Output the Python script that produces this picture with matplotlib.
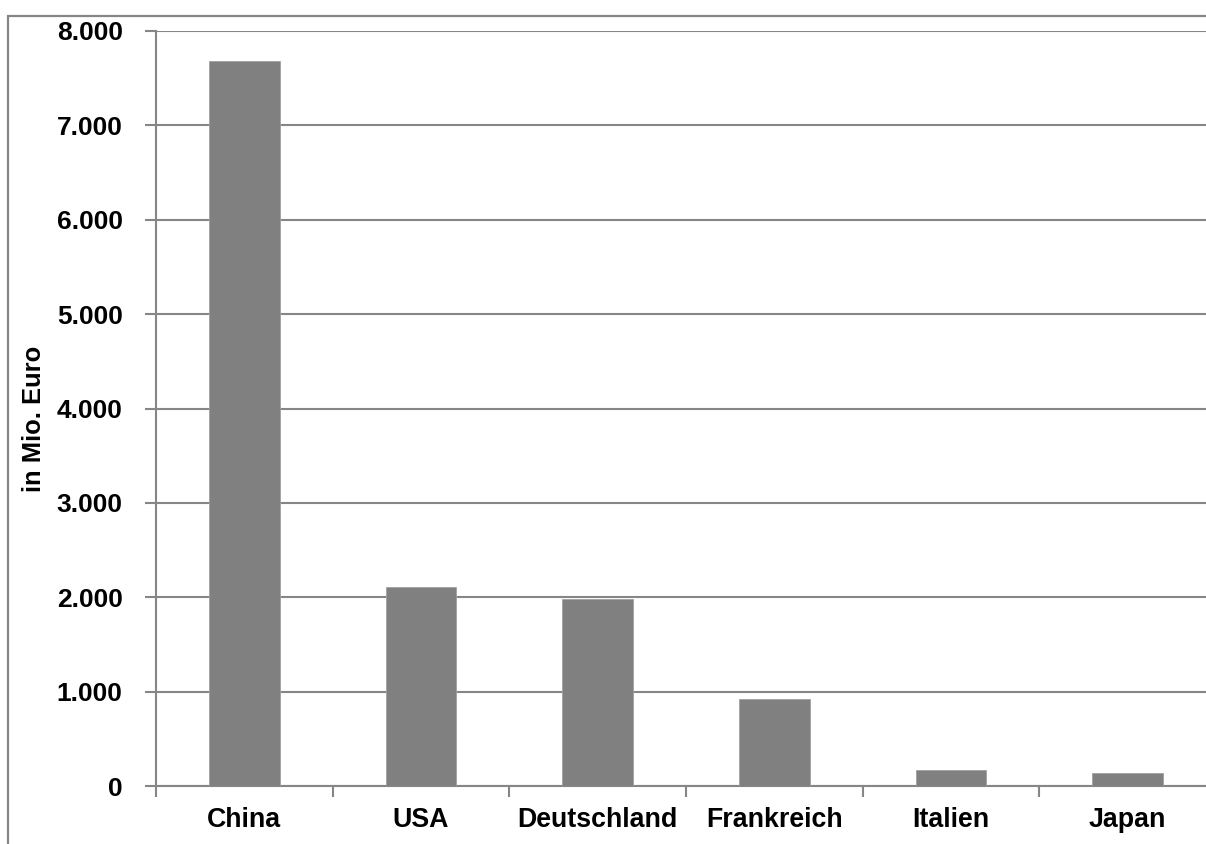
import numpy as np
import matplotlib
matplotlib.use("Agg")
import matplotlib.pyplot as plt
from matplotlib.patches import Rectangle
from matplotlib.ticker import FuncFormatter

# Daten
laender = ["China", "USA", "Deutschland", "Frankreich", "Italien", "Japan"]
werte = [7680, 2105, 1980, 918, 173, 141]
y_ticks = [0, 1000, 2000, 3000, 4000, 5000, 6000, 7000, 8000]

plt.rcParams['font.family'] = ['Liberation Sans', 'DejaVu Sans']
plt.rcParams['font.weight'] = 'bold'

W, H = 1206, 844
fig = plt.figure(figsize=(W / 100, H / 100), dpi=100)
grau = '#868686'

# Rahmen um das Diagramm (rechts und unten abgeschnitten)
rahmen = Rectangle((8 / W, -0.1), 1.2, 1 - 16 / H + 0.1, transform=fig.transFigure,
                   fill=False, edgecolor=grau, linewidth=1.6, clip_on=False)
fig.patches.append(rahmen)

ax = fig.add_axes([156 / W, 1 - 786 / H, (1216 - 156) / W, (786 - 31) / H])
x = np.arange(len(laender))
ax.bar(x, werte, width=0.4, color='#808080', edgecolor='#a0a0a0', linewidth=0.6, zorder=3)

ax.set_xlim(-0.5, len(laender) - 0.5)
ax.set_ylim(0, 8000)
ax.set_yticks(y_ticks)
ax.yaxis.set_major_formatter(FuncFormatter(lambda v, p: f"{int(v):,}".replace(",", ".")))
ax.grid(axis='y', color=grau, linewidth=1.5, zorder=0)
ax.set_axisbelow(True)

ax.set_xticks(x)
ax.set_xticklabels(laender)
ax.set_xticks(np.arange(len(laender) + 1) - 0.5, minor=True)
ax.tick_params(axis='x', which='major', length=0, pad=15, labelsize=19.3)
ax.tick_params(axis='x', which='minor', length=8, width=1.5, color=grau, direction='out')
ax.tick_params(axis='y', length=8, width=1.5, color=grau, pad=16, labelsize=19)

for s in ['top', 'right']:
    ax.spines[s].set_visible(False)
for s in ['left', 'bottom']:
    ax.spines[s].set_color(grau)
    ax.spines[s].set_linewidth(1.5)

# Achsenbeschriftung
fig.text(34 / W, 1 - 419 / H, "in Mio. Euro", rotation=90, ha='center', va='center',
         fontsize=18.4, fontweight='bold')

fig.savefig("out.png", dpi=100)
